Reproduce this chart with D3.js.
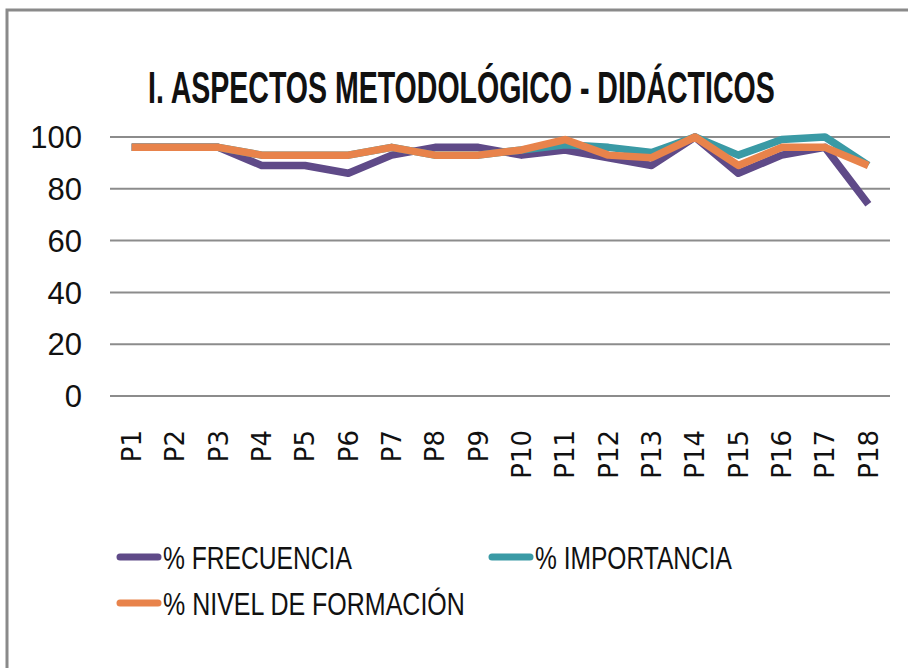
<!DOCTYPE html>
<html>
<head>
<meta charset="utf-8">
<script src="https://cdn.jsdelivr.net/npm/d3@7"></script>
<style>
  html, body { margin: 0; padding: 0; background: #fff; }
  svg { display: block; }
</style>
</head>
<body>
<div id="chart"></div>
<script>
// Chart data
const title = "I. ASPECTOS METODOLÓGICO - DIDÁCTICOS";
const categories = ["P1","P2","P3","P4","P5","P6","P7","P8","P9","P10","P11","P12","P13","P14","P15","P16","P17","P18"];
const frecuencia = [96, 96, 96, 89, 89, 86, 93, 96, 96, 93, 95, 92, 89, 100, 86, 93, 96, 74];
const importancia = [96, 96, 96, 93, 93, 93, 96, 93, 93, 95, 97, 96, 94, 100, 93, 99, 100, 89];
const formacion = [96, 96, 96, 93, 93, 93, 96, 93, 93, 95, 99, 93, 92, 100, 89, 96, 96, 89];
const yTicks = [0, 20, 40, 60, 80, 100];

const series = [
  { name: "% FRECUENCIA", values: frecuencia, color: "#5f4a88" },
  { name: "% IMPORTANCIA", values: importancia, color: "#3a9aa5" },
  { name: "% NIVEL DE FORMACIÓN", values: formacion, color: "#e8834b" }
];

const W = 908, H = 668;
const font = "'Liberation Sans', Arial, sans-serif";

const svg = d3.select("#chart").append("svg")
  .attr("width", W)
  .attr("height", H);

// squeeze a text horizontally to a given width (no narrow font available)
function squeeze(sel, width) {
  sel.each(function() {
    const len = this.getComputedTextLength();
    const sx = Math.min(1, width / len);
    const t = d3.select(this);
    t.attr("transform", (t.attr("transform") || "") + ` scale(${sx},1)`);
  });
}

// frame
svg.append("path")
  .attr("d", `M7,${H} L7,10 L${W},10`)
  .attr("fill", "none")
  .attr("stroke", "#8a8a8a")
  .attr("stroke-width", 3);

// title
svg.append("text")
  .attr("transform", "translate(148,103)")
  .style("font-family", font)
  .style("font-weight", "bold")
  .style("font-size", "44px")
  .attr("fill", "#111")
  .text(title)
  .call(squeeze, 627);

// scales
const x = d3.scaleBand().domain(categories).range([110, 890]);
const y = d3.scaleLinear().domain([0, 100]).range([396, 137]);
const cx = d => x(d) + x.bandwidth() / 2;

// gridlines
svg.append("g")
  .selectAll("line")
  .data(yTicks)
  .join("line")
  .attr("x1", 110)
  .attr("x2", 890)
  .attr("y1", d => y(d))
  .attr("y2", d => y(d))
  .attr("stroke", "#8c8c8c")
  .attr("stroke-width", 2);

// y tick labels
svg.append("g")
  .selectAll("text")
  .data(yTicks)
  .join("text")
  .attr("transform", d => `translate(82,${y(d)})`)
  .attr("dy", "0.36em")
  .attr("text-anchor", "end")
  .style("font-family", font)
  .style("font-size", "31px")
  .attr("fill", "#111")
  .text(d => d)
  .call(squeeze, 56);

// x labels (rotated)
svg.append("g")
  .selectAll("text")
  .data(categories)
  .join("text")
  .attr("transform", d => `translate(${cx(d)},430) rotate(-90)`)
  .attr("text-anchor", "end")
  .attr("dy", "0.36em")
  .style("font-family", "'DejaVu Sans', sans-serif")
  .style("font-size", "26px")
  .attr("fill", "#111")
  .text(d => d);

// lines
const line = d3.line()
  .x((d, i) => cx(categories[i]))
  .y(d => y(d));

svg.append("g")
  .selectAll("path")
  .data(series)
  .join("path")
  .attr("d", d => line(d.values))
  .attr("fill", "none")
  .attr("stroke", d => d.color)
  .attr("stroke-width", 7.5)
  .attr("stroke-linejoin", "round");

// legend
const legendPos = [
  { x: 118, y: 557, w: 189 },
  { x: 490, y: 557, w: 197 },
  { x: 118, y: 603, w: 302 }
];
const legend = svg.append("g")
  .selectAll("g")
  .data(series)
  .join("g")
  .attr("transform", (d, i) => `translate(${legendPos[i].x},${legendPos[i].y})`);

legend.append("line")
  .attr("x1", 2)
  .attr("x2", 40)
  .attr("stroke", d => d.color)
  .attr("stroke-width", 7)
  .attr("stroke-linecap", "round");

legend.append("text")
  .attr("transform", "translate(45,0)")
  .attr("dy", "0.36em")
  .style("font-family", font)
  .style("font-size", "32px")
  .attr("fill", "#111")
  .text(d => d.name)
  .each(function(d, i) {
    d3.select(this).call(squeeze, legendPos[i].w);
  });
</script>
</body>
</html>
